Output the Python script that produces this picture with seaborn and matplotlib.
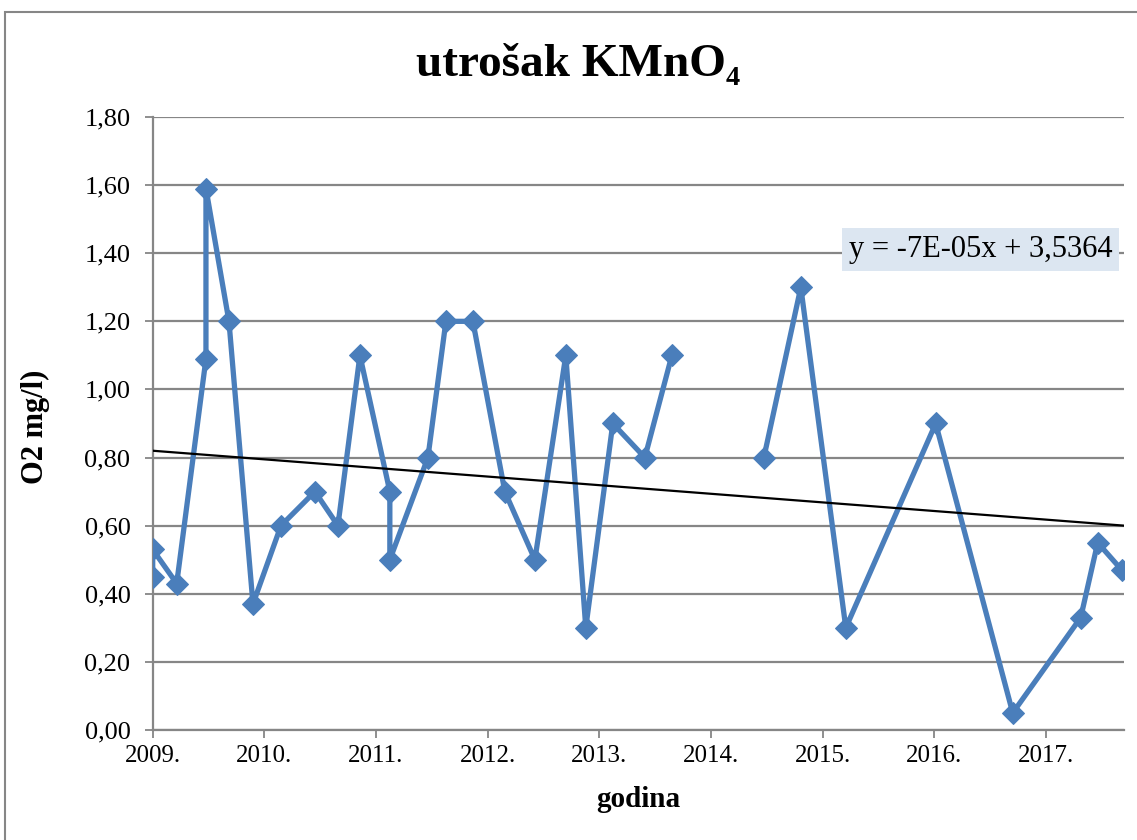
import matplotlib.pyplot as plt
import matplotlib.patches as mpatches
import numpy as np
import pandas as pd
import seaborn as sns

# sampling dates (decimal year) and KMnO4 consumption (mg/l O2)
godina = [2009.00, 2009.00, 2009.215, 2009.477, 2009.477, 2009.683, 2009.898,
          2010.149, 2010.453, 2010.659, 2010.856, 2011.124, 2011.124, 2011.465,
          2011.626, 2011.868, 2012.154, 2012.423, 2012.700, 2012.879, 2013.121,
          2013.408, 2013.650,
          2014.474, 2014.805, 2015.208, 2016.013, 2016.703, 2017.312, 2017.464,
          2017.679]
kmno4 = [0.45, 0.53, 0.43, 1.09, 1.59, 1.20, 0.37,
         0.60, 0.70, 0.60, 1.10, 0.70, 0.50, 0.80,
         1.20, 1.20, 0.70, 0.50, 1.10, 0.30, 0.90,
         0.80, 1.10,
         0.80, 1.30, 0.30, 0.90, 0.05, 0.33, 0.55,
         0.47]
segment = [0] * 23 + [1] * 8  # gap in sampling during 2014

trend_x = [2009.0, 2017.70]
trend_y = [0.82, 0.60]

year_ticks = list(range(2009, 2018))
year_labels = [f"{y}." for y in year_ticks]
y_ticks = [0.0, 0.2, 0.4, 0.6, 0.8, 1.0, 1.2, 1.4, 1.6, 1.8]
y_labels = [f"{v:.2f}".replace(".", ",") for v in y_ticks]

df = pd.DataFrame({"godina": godina, "kmno4": kmno4, "seg": segment})

sns.set_style("white")
plt.rcParams["font.family"] = ["Liberation Serif", "DejaVu Serif"]
plt.rcParams["text.color"] = "black"
plt.rcParams["axes.labelcolor"] = "black"

fig = plt.figure(figsize=(11.37, 8.40), dpi=100)
ax = fig.add_axes([0.1343, 0.131, 0.9886 - 0.1343, 0.8607 - 0.131])

# outer chart border
fig.patches.append(mpatches.Rectangle((5 / 1137, -0.01), 1.0, 1 - 12 / 840 + 0.01,
                                      transform=fig.transFigure, fill=False,
                                      edgecolor="#868686", linewidth=1.5))

blue = "#4a7ebb"
sns.lineplot(data=df, x="godina", y="kmno4", units="seg", estimator=None,
             sort=False, color=blue, linewidth=3.8, marker="D",
             markersize=11, markeredgecolor=blue, ax=ax, zorder=3)
sns.lineplot(x=trend_x, y=trend_y, color="black", linewidth=1.6, ax=ax, zorder=4)

ax.set_xlim(2009.0, 2017.70)
ax.set_ylim(0, 1.8)
ax.set_xticks(year_ticks)
ax.set_xticklabels(year_labels, fontsize=18)
ax.set_yticks(y_ticks)
ax.set_yticklabels(y_labels, fontsize=19)
ax.yaxis.grid(True, color="#868686", linewidth=1.6)
ax.set_axisbelow(True)

for s in ["top", "right"]:
    ax.spines[s].set_visible(False)
for s in ["left", "bottom"]:
    ax.spines[s].set_color("#868686")
    ax.spines[s].set_linewidth(1.6)
ax.tick_params(axis="both", direction="out", length=6, width=1.3,
               color="#868686", labelcolor="black", bottom=True, left=True)
ax.tick_params(axis="y", pad=10)
ax.tick_params(axis="x", pad=5)

ax.set_xlabel("godina", fontsize=21, fontweight="bold", va="center")
ax.xaxis.set_label_coords(0.5, -0.114)
ax.set_ylabel("O2 mg/l)", fontsize=22, fontweight="bold", va="center")
ax.yaxis.set_label_coords(-0.121, 0.494)

fig.text(0.508, 0.923, "utrošak KMnO₄", ha="center", va="center",
         fontsize=34, fontweight="bold")

ax.text(0.988, 0.784, "y = -7E-05x + 3,5364", transform=ax.transAxes,
        ha="right", va="center", fontsize=22,
        bbox=dict(boxstyle="square,pad=0.22", facecolor="#dce6f1",
                  edgecolor="none"))

fig.savefig("out.png", dpi=100)
